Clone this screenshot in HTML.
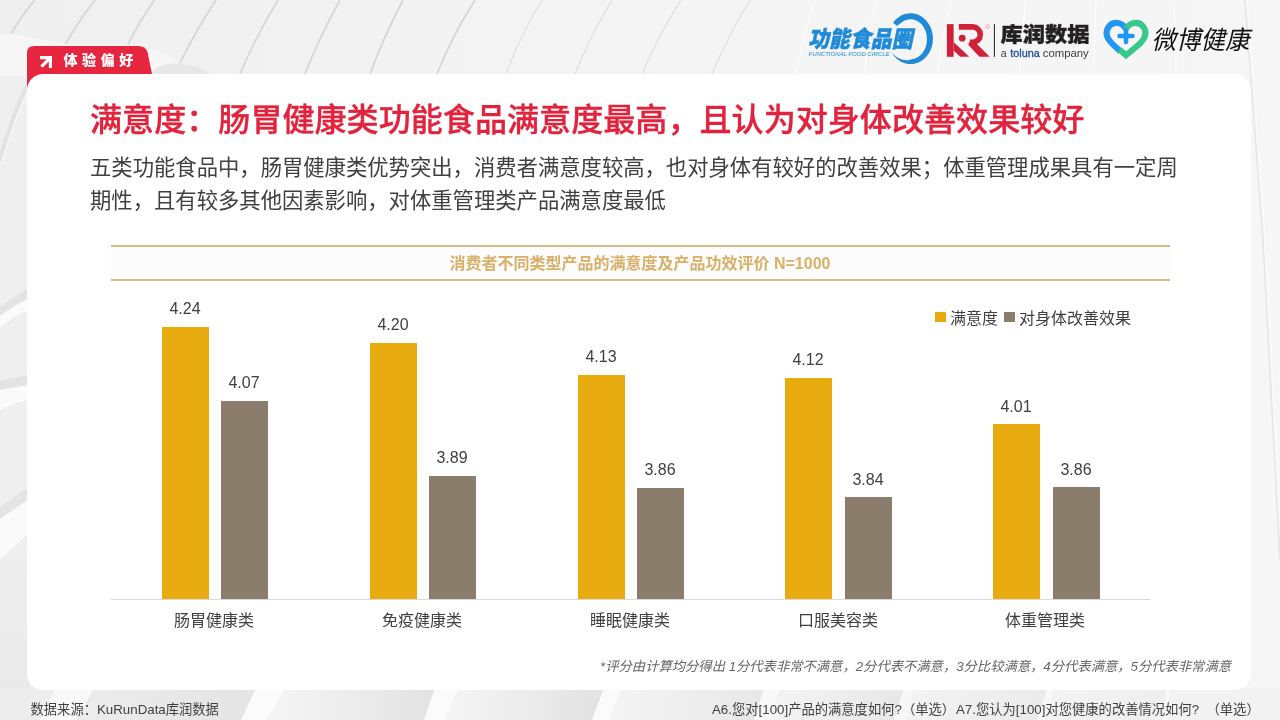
<!DOCTYPE html>
<html lang="zh-CN">
<head>
<meta charset="utf-8">
<title>满意度</title>
<style>
*{margin:0;padding:0;box-sizing:border-box}
html,body{width:1280px;height:720px;overflow:hidden;background:#f0f0f0}
body{position:relative;font-family:"Liberation Sans","Noto Sans CJK SC",sans-serif;color:#404040}
.abs{position:absolute;white-space:nowrap}
#bg{position:absolute;left:0;top:0;width:1280px;height:720px}
#tab{position:absolute;left:27px;top:46px;width:130px;height:50px}
#tabtxt{left:63.5px;top:50px;font-size:14px;font-weight:900;color:#fff;letter-spacing:4.6px;line-height:20px}
#card{position:absolute;left:27px;top:74px;width:1224px;height:616px;background:#fff;border-radius:16px}
#title{left:90px;top:98px;font-size:32.1px;font-weight:500;color:#e1233d;-webkit-text-stroke:0.35px #e1233d;line-height:44px}
#sub{left:90px;top:152px;width:1100px;font-size:21.33px;line-height:33px;color:#404040;white-space:normal}
#band{position:absolute;left:111px;top:245px;width:1059px;height:36px;background:#fcfcfc;border-top:2px solid #d5bc87;border-bottom:2px solid #d5bc87}
#bandtxt{left:111px;top:248px;width:1058px;text-align:center;font-size:16px;font-weight:700;color:#d9b068;line-height:32px}
.bar{position:absolute;width:47px}
.g{background:#e8ac11}
.b{background:#8a7d6b}
.val{position:absolute;width:80px;text-align:center;font-size:16px;line-height:20px;color:#404040}
.cat{position:absolute;width:160px;text-align:center;font-size:16px;line-height:20px;color:#404040;top:611px}
#axis{position:absolute;left:111px;top:599px;width:1039px;height:1px;background:#d9d9d9}
.lg{position:absolute;width:10.7px;height:10.7px;top:311.5px}
.lgt{font-size:16px;line-height:20px;top:308.5px;color:#404040}
#note{right:49px;top:657px;font-size:13.3px;font-style:italic;color:#666;line-height:20px}
#src{left:30.5px;top:701px;font-size:13.3px;line-height:18px;color:#404040}
.q{top:701px;font-size:13.3px;line-height:18px;color:#404040}
</style>
</head>
<body>
<svg id="bg" viewBox="0 0 1280 720">
<defs>
<linearGradient id="gb" x1="0" y1="0" x2="1" y2="0"><stop offset="0" stop-color="#f5f5f5"/><stop offset="1" stop-color="#e0e0e0"/></linearGradient>
<linearGradient id="gl" x1="0" y1="0" x2="0" y2="1"><stop offset="0" stop-color="#f3f3f3"/><stop offset="1" stop-color="#ededed"/></linearGradient>
</defs>
<linearGradient id="gt" x1="0" y1="0" x2="1" y2="0"><stop offset="0" stop-color="#efefef"/><stop offset="0.35" stop-color="#f3f3f3"/><stop offset="1" stop-color="#f6f6f6"/></linearGradient>
<rect width="1280" height="720" fill="url(#gt)"/>
<!-- lighter area under ribs at left -->
<path d="M0 35 L11 33.6 Q40 40 65.6 43.7 L128 44.5 Q160 48 180 63 L196 76 L0 76 Z" fill="#f6f6f6"/>
<!-- top ribs -->
<g fill="none" stroke="#d6d6d6" stroke-width="1.8">
<path d="M35 0 Q22 15 11 33.6"/>
<path d="M95.3 0 Q79 20 65.6 43.7"/>
<path d="M154.700 0 Q140 20 128 44.5"/>
<path d="M216 0 Q196 30 180 63"/>
<path d="M278 0 Q256 36 240 74"/>
<path d="M340 0 Q320 36 305 74"/>
<path d="M403 0 Q384 36 370 74"/>
<path d="M475 0 Q452 36 437 74"/>
</g>
<g fill="none" stroke="#dfdfdf" stroke-width="1.3">
<path d="M542 0 Q520 36 506 74"/>
<path d="M612 0 Q590 36 575 74"/>
<path d="M681 0 Q658 36 642 74"/>
<path d="M750 0 Q728 36 712 74"/>
</g>
<g fill="none" stroke="#fafafa" stroke-width="1.5">
<path d="M815 0 Q803 36 796 74"/>
<path d="M876 0 Q868 36 864 74"/>
<path d="M952 0 Q942 36 937 74"/>
<path d="M1026 0 Q1022 36 1020 74"/>
<path d="M1096 0 Q1094 36 1094 74"/>
<path d="M1174 0 Q1175 36 1176 74"/>
</g>
<!-- right edge -->
<path d="M1245 0 L1263 240 L1280 560" fill="none" stroke="#e4e4e4" stroke-width="1.5"/>
<path d="M1247 0 L1265 240 L1282 560" fill="none" stroke="#fafafa" stroke-width="1.5"/>
<!-- left edge bands -->
<path d="M28 84 Q12 116 -1 162" fill="none" stroke="#e3e3e3" stroke-width="4"/>
<path d="M30.500 86 Q14.500 118 1.500 164" fill="none" stroke="#f7f7f7" stroke-width="1.5"/>
<path d="M30 287 Q12 298 0 307.500 L0 316 Q12 307 30 297.500 Z" fill="#e3e3e3"/>
<path d="M30 297.500 Q12 307 0 316 L0 327.600 Q12 318 30 308.500 Z" fill="#fbfbfb"/>
<path d="M30 374.500 Q12 378 0 381 L0 390 Q12 387.500 30 385 Z" fill="#e3e3e3"/>
<path d="M30 385 Q12 387.500 0 390 L0 410 Q12 404 30 399.500 Z" fill="#fafafa"/>
<path d="M30 486 L0 506.700 L0 519 L30 498.500 Z" fill="#e4e4e4"/>
<path d="M30 498.500 L0 519 L0 560 L30 532 Z" fill="#fafafa"/>
<path d="M30 532 L0 560 L0 690 L30 690 Z" fill="url(#gl2)"/>
<linearGradient id="gl2" x1="0" y1="0" x2="0" y2="1"><stop offset="0" stop-color="#efefef"/><stop offset="1" stop-color="#e9e9e9"/></linearGradient>
<!-- blob behind tab -->
<path d="M150 75 Q157 63 177 63.3 Q197 64 212 75 Z" fill="#e7e7e7"/>
<!-- bottom strip -->
<linearGradient id="gb2" x1="0" y1="0" x2="1" y2="0"><stop offset="0" stop-color="#f4f4f4"/><stop offset="1" stop-color="#e6e6e6"/></linearGradient>
<linearGradient id="gb3" x1="0" y1="0" x2="1" y2="0"><stop offset="0" stop-color="#f3f3f3"/><stop offset="1" stop-color="#eaeaea"/></linearGradient>
<linearGradient id="gb4" x1="0" y1="0" x2="1" y2="0"><stop offset="0" stop-color="#f3f3f3"/><stop offset="1" stop-color="#eeeeee"/></linearGradient>
<rect x="0" y="688" width="1280" height="32" fill="#ededed"/>
<g>
<path d="M94 688 L77 720 L241 720 L256 688 Z" fill="url(#gb5)"/>
<path d="M56 688 L40 720 L77 720 L94 688 Z" fill="#f9f9f9"/>
<linearGradient id="gb5" x1="0" y1="0" x2="1" y2="0"><stop offset="0" stop-color="#ececec"/><stop offset="1" stop-color="#e4e4e4"/></linearGradient>
<path d="M285 688 L267 720 L445 720 L459 688 Z" fill="url(#gb)"/>
<path d="M459 688 L445 720 L609 720 L622 688 Z" fill="url(#gb)"/>
<path d="M622 688 L609 720 L770 720 L780 688 Z" fill="url(#gb2)"/>
<path d="M780 688 L770 720 L905 720 L915 688 Z" fill="url(#gb2)"/>
<path d="M915 688 L905 720 L1045 720 L1055 688 Z" fill="url(#gb3)"/>
<path d="M1055 688 L1045 720 L1160 720 L1170 688 Z" fill="url(#gb4)"/>
<path d="M1170 688 L1160 720 L1280 720 L1280 688 Z" fill="#f2f2f2"/>
<path d="M256 688 L241 720 L267 720 L285 688 Z" fill="#fbfbfb"/>
<path d="M435 688 L424 720 L445 720 L459 688 Z" fill="#fbfbfb"/>
<path d="M604 688 L592 720 L609 720 L622 688 Z" fill="#fbfbfb"/>
<path d="M764 688 L754 720 L770 720 L780 688 Z" fill="#f9f9f9"/>
<path d="M904 688 L894 720 L905 720 L915 688 Z" fill="#f8f8f8"/>
<path d="M1047 688 L1037 720 L1045 720 L1055 688 Z" fill="#f8f8f8"/>
<path d="M1166 688 L1164 720 L1167.500 720 L1169.500 688 Z" fill="#fafafa"/>
</g>
</svg>


<!-- logos -->
<svg id="logos" class="abs" style="left:790px;top:0;width:490px;height:74px" viewBox="790 0 490 74">
<!-- logo 1: functional food circle -->
<path d="M893.1 22.7 L894.0 21.5 L895.0 20.3 L896.1 19.3 L897.2 18.3 L898.4 17.4 L899.6 16.5 L900.8 15.8 L902.1 15.1 L903.5 14.6 L904.8 14.1 L906.2 13.8 L907.6 13.5 L909.0 13.4 L910.5 13.3 L911.9 13.3 L913.3 13.5 L914.7 13.8 L916.1 14.1 L917.5 14.6 L918.8 15.1 L920.1 15.8 L921.4 16.5 L922.6 17.3 L923.8 18.2 L924.9 19.2 L925.9 20.3 L926.9 21.4 L927.9 22.7 L928.7 23.9 L929.5 25.3 L930.2 26.7 L930.9 28.1 L931.4 29.6 L931.9 31.1 L932.3 32.7 L932.6 34.3 L932.8 35.9 L932.9 37.5 L932.9 39.1 L932.8 40.7 L932.7 42.3 L932.4 43.9 L932.1 45.5 L931.7 47.0 L931.2 48.5 L930.6 50.0 L929.9 51.4 L929.2 52.8 L928.3 54.1 L927.4 55.3 L926.5 56.5 L925.4 57.6 L924.4 58.7 L923.2 59.6 L922.0 60.5 L920.8 61.3 L919.5 62.0 L918.2 62.6 L916.8 63.1 L915.4 63.5 L914.0 63.8 L912.6 64.0 L911.2 64.1 L909.8 64.1 L908.4 64.0 L907.0 63.8 L905.6 63.5 L904.2 63.1 L902.8 62.6 L901.5 62.0 L900.2 61.3 L899.0 60.5 L897.8 59.6 L896.7 58.7 L895.6 57.6 L894.5 56.5 L893.6 55.3 L892.7 54.1 L891.9 52.8 L891.1 51.4 L891.1 51.4 L892.0 52.7 L893.0 53.8 L894.1 54.9 L895.2 55.9 L896.4 56.8 L897.5 57.5 L898.8 58.2 L900.0 58.8 L901.3 59.3 L902.5 59.6 L903.8 59.9 L905.1 60.1 L906.3 60.2 L907.5 60.2 L908.8 60.0 L909.9 59.8 L911.1 59.5 L912.2 59.1 L913.3 58.9 L914.3 58.6 L915.4 58.3 L916.4 57.8 L917.4 57.3 L918.4 56.7 L919.3 56.0 L920.2 55.3 L921.1 54.5 L921.9 53.6 L922.6 52.7 L923.3 51.8 L924.0 50.7 L924.5 49.7 L925.1 48.6 L925.5 47.5 L925.9 46.3 L926.2 45.1 L926.5 43.9 L926.7 42.7 L926.8 41.5 L926.9 40.2 L926.9 39.0 L926.9 37.8 L926.8 36.5 L926.6 35.3 L926.4 34.1 L926.2 32.9 L925.8 31.8 L925.4 30.6 L924.9 29.5 L924.4 28.5 L923.8 27.4 L923.2 26.5 L922.5 25.5 L921.8 24.6 L921.0 23.8 L920.2 23.1 L919.4 22.4 L918.5 21.7 L917.5 21.2 L916.6 20.7 L915.6 20.3 L914.6 19.9 L913.6 19.6 L912.6 19.5 L911.5 19.3 L910.5 19.3 L909.4 19.3 L908.4 19.5 L907.4 19.7 L906.4 19.9 L905.4 20.3 L904.4 20.7 L903.4 21.2 L902.5 21.8 L901.6 22.4 L900.7 23.0 L899.8 23.7 L898.9 24.4 L898.0 25.1 L897.1 26.0 Z" fill="#1f8ad8"/>
<text x="808" y="47.3" font-family="'Liberation Sans','Noto Sans CJK SC',sans-serif" font-weight="900" font-size="22.5" fill="#f4f5f7" stroke="#f4f5f7" stroke-width="2.4" stroke-linejoin="round" transform="translate(10.2 0) skewX(-12)" textLength="104.5" lengthAdjust="spacingAndGlyphs">功能食品圈</text>
<text x="808" y="47.3" font-family="'Liberation Sans','Noto Sans CJK SC',sans-serif" font-weight="900" font-size="22.5" fill="#1f8ad8" stroke="#1f8ad8" stroke-width="0.5" transform="translate(10.2 0) skewX(-12)" textLength="104.5" lengthAdjust="spacingAndGlyphs">功能食品圈</text>
<text x="808.5" y="56.2" font-family="'Liberation Sans',sans-serif" font-style="italic" font-size="5.8" fill="#1f8ad8" textLength="81" lengthAdjust="spacingAndGlyphs">FUNCTIONAL FOOD CIRCLE</text>
<!-- logo 2: KR -->
<g fill="#cf2139">
<rect x="946.9" y="24.1" width="6.7" height="32.7"/>
<path d="M953.6 42.1 L969.2 56.8 L960.3 56.8 L953.6 50.4 Z"/>
<path d="M968.2 44.7 L970.6 39.6 L976.4 43.6 L989.7 56.8 L979.4 56.8 Z"/>
<circle cx="962.2" cy="38.2" r="3.4"/>
</g>
<path d="M958.8 26.9 H972.6 A7.7 7.7 0 0 1 972.6 42.3 H970.2" fill="none" stroke="#cf2139" stroke-width="5.6"/>
<circle cx="987.6" cy="26.6" r="1.9" fill="none" stroke="#e6a3ab" stroke-width="0.9"/>
<rect x="993.9" y="24.1" width="1" height="32.8" fill="#231f20"/>
<text x="1000.4" y="42.2" font-family="'Liberation Sans','Noto Sans CJK SC',sans-serif" font-weight="900" font-size="20.5" fill="#231f20" stroke="#231f20" stroke-width="0.35" textLength="89" lengthAdjust="spacingAndGlyphs">库润数据</text>
<g font-family="'Liberation Sans',sans-serif" font-size="10.6" fill="#3a3a3a">
<text x="1000.8" y="56.7">a</text>
<text x="1010.3" y="56.7" fill="#1f4c9c" stroke="#1f4c9c" stroke-width="0.3" textLength="29.6" lengthAdjust="spacingAndGlyphs">toluna</text>
<text x="1042.8" y="56.7" textLength="46" lengthAdjust="spacingAndGlyphs">company</text>
</g>
<!-- logo 3: weibo health -->
<g fill="none" stroke-width="6" stroke-linecap="butt">
<path d="M1126 29.5 C1123 22 1113 20.5 1108.5 27 C1104.5 33 1107.5 39 1112 43.5 L1120.5 51.5" stroke="#2196f3"/>
<path d="M1126 29.5 C1129 22 1139 20.5 1143.5 27 C1147.500 33 1144.5 39 1140 43.5 L1126 55.3 L1119.5 49.5" stroke="#37c98b" stroke-linejoin="miter"/>
</g>
<g stroke="#2196f3" stroke-width="4.6" stroke-linecap="round">
<path d="M1119.500 36 L1132.500 36"/>
<path d="M1126 30 L1126 42"/>
</g>
<text x="1151.500" y="49" font-family="'Liberation Sans','Noto Sans CJK SC',sans-serif" font-weight="400" font-size="25.500" fill="#111" transform="translate(11.2 0) skewX(-13)" textLength="98" lengthAdjust="spacingAndGlyphs">微博健康</text>
</svg>

<svg id="tab" viewBox="0 0 130 50">
<path d="M0 42 L0 7 Q0 0 7 0 L111 0 Q118.5 0 120.5 6 L125 28 L20 28 L20 42 Z" fill="#e6253f"/>
<path d="M13 10 L25 10 L25 22 L21.8 22 L21.8 15.5 L15.6 21.7 L13.3 19.4 L19.5 13.2 L13 13.2 Z" fill="#fff"/>
</svg>
<div id="card"></div>
<div id="tabtxt" class="abs">体验偏好</div>

<div id="title" class="abs">满意度：肠胃健康类功能食品满意度最高，且认为对身体改善效果较好</div>
<div id="sub" class="abs">五类功能食品中，肠胃健康类优势突出，消费者满意度较高，也对身体有较好的改善效果；体重管理成果具有一定周期性，且有较多其他因素影响，对体重管理类产品满意度最低</div>

<div id="band"></div>
<div id="bandtxt" class="abs">消费者不同类型产品的满意度及产品功效评价 N=1000</div>

<!-- bars -->
<div class="bar g" style="left:162px;top:327px;height:272px"></div>
<div class="bar b" style="left:221px;top:401px;height:198px"></div>
<div class="bar g" style="left:370px;top:343px;height:256px"></div>
<div class="bar b" style="left:429px;top:476px;height:123px"></div>
<div class="bar g" style="left:578px;top:375px;height:224px"></div>
<div class="bar b" style="left:637px;top:488px;height:111px"></div>
<div class="bar g" style="left:785px;top:378px;height:221px"></div>
<div class="bar b" style="left:845px;top:497px;height:102px"></div>
<div class="bar g" style="left:993px;top:424px;height:175px"></div>
<div class="bar b" style="left:1053px;top:487px;height:112px"></div>
<div id="axis"></div>

<div class="val" style="left:145px;top:299px">4.24</div>
<div class="val" style="left:204px;top:373px">4.07</div>
<div class="val" style="left:353px;top:315px">4.20</div>
<div class="val" style="left:412px;top:448px">3.89</div>
<div class="val" style="left:561px;top:347px">4.13</div>
<div class="val" style="left:620px;top:460px">3.86</div>
<div class="val" style="left:768px;top:350px">4.12</div>
<div class="val" style="left:828px;top:470px">3.84</div>
<div class="val" style="left:976px;top:397px">4.01</div>
<div class="val" style="left:1036px;top:460px">3.86</div>

<div class="cat" style="left:134px">肠胃健康类</div>
<div class="cat" style="left:342px">免疫健康类</div>
<div class="cat" style="left:550px">睡眠健康类</div>
<div class="cat" style="left:758px">口服美容类</div>
<div class="cat" style="left:965px">体重管理类</div>

<div class="lg g" style="left:935px"></div>
<div class="abs lgt" style="left:950px">满意度</div>
<div class="lg b" style="left:1004px"></div>
<div class="abs lgt" style="left:1019px">对身体改善效果</div>

<div id="note" class="abs">*评分由计算均分得出 1分代表非常不满意，2分代表不满意，3分比较满意，4分代表满意，5分代表非常满意</div>
<div id="src" class="abs">数据来源：KuRunData库润数据</div>
<div class="abs q" style="left:712px">A6.您对[100]产品的满意度如何?（单选）</div>
<div class="abs q" style="left:956px">A7.您认为[100]对您健康的改善情况如何?</div>
<div class="abs q" style="left:1206.5px">（单选）</div>

</body>
</html>
